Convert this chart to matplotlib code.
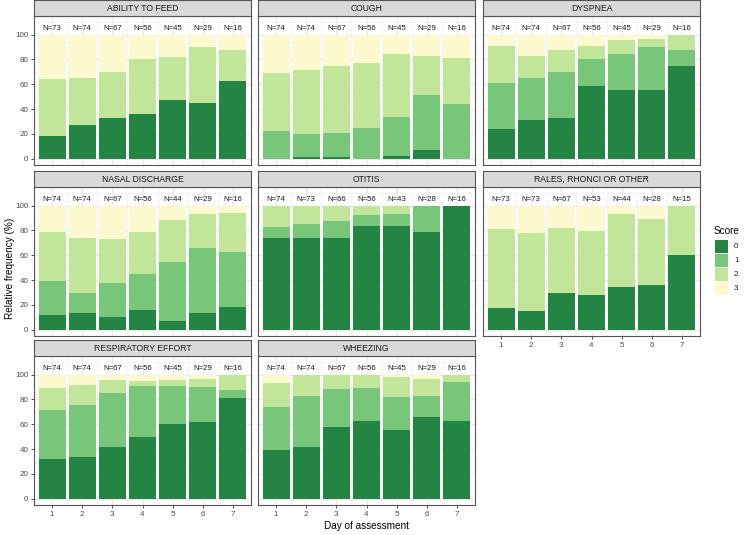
import matplotlib.pyplot as plt
from matplotlib.patches import Rectangle

plt.rcParams['font.family'] = ['Liberation Sans', 'DejaVu Sans']

days = [1, 2, 3, 4, 5, 6, 7]
scores = ['0', '1', '2', '3']
colors = ['#238443', '#78c679', '#c2e699', '#fbf9cd']

panels = ['ABILITY TO FEED', 'COUGH', 'DYSPNEA', 'NASAL DISCHARGE', 'OTITIS',
          'RALES, RHONCI OR OTHER', 'RESPIRATORY EFFORT', 'WHEEZING']

# sample size per day
n_feed = [73, 74, 67, 56, 45, 29, 16]
n_cough = [74, 74, 67, 56, 45, 29, 16]
n_dysp = [74, 74, 67, 56, 45, 29, 16]
n_nasal = [74, 74, 67, 56, 44, 29, 16]
n_otitis = [74, 73, 66, 56, 43, 28, 16]
n_rales = [73, 73, 67, 53, 44, 28, 15]
n_resp = [74, 74, 67, 56, 45, 29, 16]
n_wheeze = [74, 74, 67, 56, 45, 29, 16]

# relative frequency (%) of score 0, 1, 2, 3 per day
feed = [[18, 27, 33, 36, 47, 45, 62.5],
        [0, 0, 0, 0, 0, 0, 0],
        [46, 38, 37, 44, 35, 45, 25],
        [36, 35, 30, 20, 18, 10, 12.5]]
cough = [[0, 1.4, 1.5, 0, 2.2, 6.9, 0],
         [22, 18.9, 19.4, 25, 31.1, 44.8, 43.75],
         [47, 51.4, 53.7, 52, 51.1, 31.0, 37.5],
         [31, 28.3, 25.4, 23, 15.6, 17.3, 18.75]]
dysp = [[24.3, 31.1, 32.8, 58.9, 55.6, 55.2, 75],
        [36.5, 33.8, 37.3, 21.4, 28.9, 34.5, 12.5],
        [29.7, 17.6, 17.9, 10.7, 11.1, 6.9, 12.5],
        [9.5, 17.5, 12.0, 9.0, 4.4, 3.4, 0]]
nasal = [[12.2, 13.5, 10.4, 16.1, 6.8, 13.8, 18.75],
         [27.0, 16.2, 26.9, 28.6, 47.7, 51.7, 43.75],
         [39.2, 44.6, 35.8, 33.9, 34.1, 27.6, 31.25],
         [21.6, 25.7, 26.9, 21.4, 11.4, 6.9, 6.25]]
otitis = [[74.3, 74.0, 74.2, 83.9, 83.7, 78.6, 100],
          [8.1, 11.0, 13.6, 8.9, 9.3, 21.4, 0],
          [17.6, 15.0, 12.2, 7.2, 7.0, 0, 0],
          [0, 0, 0, 0, 0, 0, 0]]
rales = [[17.8, 15.1, 29.9, 28.3, 34.1, 35.7, 60],
         [0, 0, 0, 0, 0, 0, 0],
         [63.0, 63.0, 52.2, 50.9, 59.1, 53.6, 40],
         [19.2, 21.9, 17.9, 20.8, 6.8, 10.7, 0]]
resp = [[32.4, 33.8, 41.8, 50.0, 60.0, 62.1, 81.25],
        [39.2, 41.9, 43.3, 41.1, 31.1, 27.6, 6.25],
        [17.6, 16.2, 10.4, 3.6, 4.5, 6.9, 12.5],
        [10.8, 8.1, 4.5, 5.3, 4.4, 3.4, 0]]
wheeze = [[39.2, 41.9, 58.2, 62.5, 55.6, 65.5, 62.5],
          [35.1, 40.5, 29.9, 26.8, 26.7, 17.2, 31.25],
          [18.9, 17.6, 11.9, 10.7, 15.5, 13.8, 6.25],
          [6.8, 0, 0, 0, 2.2, 3.5, 0]]

data = [feed, cough, dysp, nasal, otitis, rales, resp, wheeze]
ns = [n_feed, n_cough, n_dysp, n_nasal, n_otitis, n_rales, n_resp, n_wheeze]

W, H = 750, 535
fig = plt.figure(figsize=(7.5, 5.35), dpi=100)

col_x = [34, 258, 483]
pw = 217
row_y = [16, 187, 356]   # top of plot area (px)
ph = 149
sh = 16

border = '#555555'
txtc = '#4d4d4d'

for i, name in enumerate(panels):
    r, c = divmod(i, 3)
    x0, y0 = col_x[c], row_y[r]
    ax = fig.add_axes([x0 / W, 1 - (y0 + ph) / H, pw / W, ph / H])
    sax = fig.add_axes([x0 / W, 1 - y0 / H, pw / W, sh / H])
    sax.set_facecolor('#d9d9d9')
    sax.set_xticks([])
    sax.set_yticks([])
    for s in sax.spines.values():
        s.set_color(border)
        s.set_linewidth(0.8)
    sax.text(0.5, 0.45, name, ha='center', va='center', fontsize=6.2, color='#1a1a1a')

    bottom = [0] * 7
    for k in range(4):
        ax.bar(days, data[i][k], width=0.9, bottom=bottom, color=colors[k],
               linewidth=0, zorder=3)
        bottom = [b + v for b, v in zip(bottom, data[i][k])]
    for d, n in zip(days, ns[i]):
        ax.text(d, 105, 'N=%d' % n, ha='center', va='center', fontsize=5.6,
                color='#1a1a1a', zorder=4)

    ax.set_xlim(0.4, 7.6)
    ax.set_ylim(-5, 115)
    ax.set_yticks([0, 20, 40, 60, 80, 100])
    ax.set_yticks([10, 30, 50, 70, 90, 110], minor=True)
    ax.set_xticks(days)
    ax.set_xticks([1.5, 2.5, 3.5, 4.5, 5.5, 6.5], minor=True)
    ax.grid(True, which='major', color='#e8e8e8', linewidth=0.8, zorder=0)
    ax.grid(True, which='minor', color='#f0f0f0', linewidth=0.5, zorder=0)
    ax.set_axisbelow(True)
    for s in ax.spines.values():
        s.set_color(border)
        s.set_linewidth(0.8)
    ax.tick_params(which='minor', length=0)
    ax.tick_params(which='major', length=2.5, width=0.6, color='#333333',
                   labelsize=5.8, labelcolor=txtc, pad=1.5)
    if c != 0:
        ax.tick_params(axis='y', which='major', length=0, labelleft=False)
    show_x = (r == 2) or (r == 1 and c == 2)
    if not show_x:
        ax.tick_params(axis='x', which='major', length=0, labelbottom=False)

fig.text(10 / W, 1 - 268 / H, 'Relative frequency (%)', rotation=90,
         ha='center', va='center', fontsize=7.2)
fig.text(367 / W, 1 - 526 / H, 'Day of assessment', ha='center', va='center',
         fontsize=7.2)

# legend
fig.text(714 / W, 1 - 231 / H, 'Score', ha='left', va='center', fontsize=7.2)
for k, lab in enumerate(scores):
    yk = 240 + k * 14
    fig.patches.append(Rectangle((715 / W, 1 - (yk + 13) / H), 13 / W, 13 / H,
                                 transform=fig.transFigure, facecolor=colors[k],
                                 edgecolor='none'))
    fig.text(734 / W, 1 - (yk + 6.5) / H, lab, ha='left', va='center',
             fontsize=5.8, color='#1a1a1a')

fig.savefig('out.png', dpi=100)
